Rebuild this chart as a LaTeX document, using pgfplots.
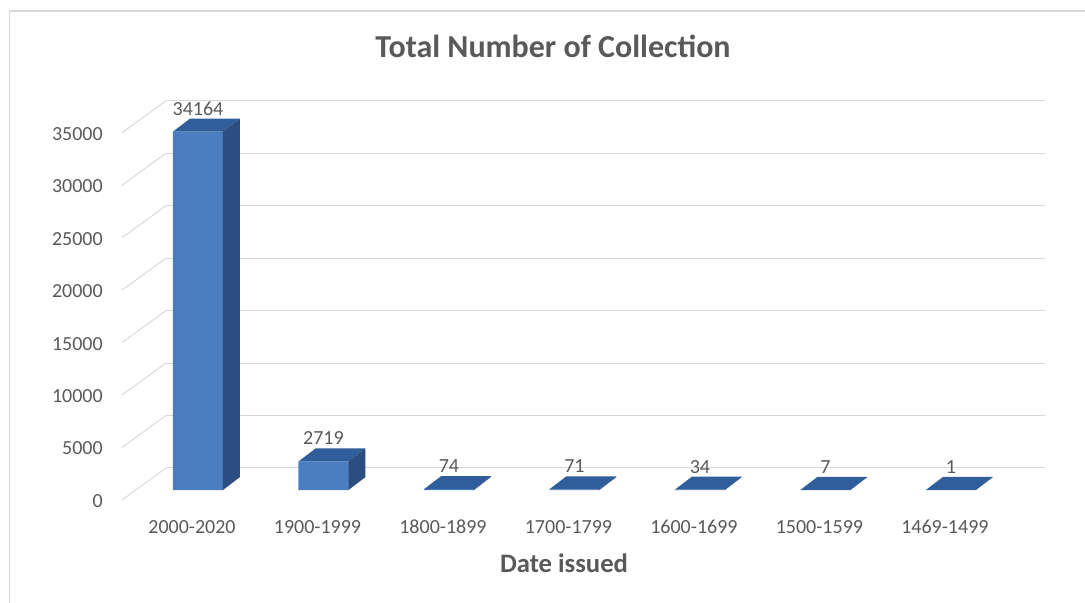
\documentclass[border=0pt]{standalone}
\usepackage{pgfplots}
\pgfplotsset{compat=1.18}
\usepackage{pgfplotstable}
\usepackage{fontspec}
\setmainfont{Carlito}
\usetikzlibrary{calc}
\definecolor{frontc}{HTML}{4A7EC1}
\definecolor{sidec}{HTML}{2B4D80}
\definecolor{topc}{HTML}{305E9A}
\definecolor{txt}{HTML}{595959}
\definecolor{gridc}{HTML}{D9D9D9}

\pgfplotstableread{
x label value
0 2000-2020 34164
1 1900-1999 2719
2 1800-1899 74
3 1700-1799 71
4 1600-1699 34
5 1500-1599 7
6 1469-1499 1
}\datatable

\begin{document}
\begin{tikzpicture}
\begin{axis}[
  name=ax,
  scale only axis, width=659.25pt, height=291.9pt,
  xmin=-0.255, xmax=6.75, ymin=0, ymax=37100,
  clip=false,
  axis line style={draw=none}, major tick length=0pt, tick style={draw=none},
  scaled y ticks=false,
  ytick={2100,7100,12100,17100,22100,27100,32100,37100},
  yticklabels={0,5000,10000,15000,20000,25000,30000,35000},
  ymajorgrids, grid style={gridc, line width=0.75pt},
  xtick={0,1,2,3,4,5,6},
  xticklabels={2000-2020,1900-1999,1800-1899,1700-1799,1600-1699,1500-1599,1469-1499},
  ticklabel style={font=\fontsize{15}{18}\selectfont, color=txt, inner sep=0pt},
  yticklabel style={anchor=east, xshift=-47.25pt, yshift=-24.75pt},
  xticklabel style={anchor=center, xshift=-4.5pt, yshift=-27.75pt},
  title={Total Number of Collection},
  title style={at={(0.4403,1.1202)}, anchor=center, inner sep=0pt, font=\bfseries\fontsize{24}{29}\selectfont, color=txt},
  xlabel={Date issued},
  xlabel style={at={(0.4528,-0.1876)}, anchor=center, inner sep=0pt, font=\bfseries\fontsize{20}{24}\selectfont, color=txt},
  /pgf/number format/.cd, 1000 sep={}, assume math mode=true,
]
\draw[gridc, line width=0.75pt]
  (axis cs:-0.6056,-950) -- (axis cs:-0.255,2100)
  (axis cs:-0.6056,4050) -- (axis cs:-0.255,7100)
  (axis cs:-0.6056,9050) -- (axis cs:-0.255,12100)
  (axis cs:-0.6056,14050) -- (axis cs:-0.255,17100)
  (axis cs:-0.6056,19050) -- (axis cs:-0.255,22100)
  (axis cs:-0.6056,24050) -- (axis cs:-0.255,27100)
  (axis cs:-0.6056,29050) -- (axis cs:-0.255,32100)
  (axis cs:-0.6056,34050) -- (axis cs:-0.255,37100);
\addplot[ybar, bar width=0.4, fill=frontc, draw=none,
  nodes near coords,
  nodes near coords style={font=\fontsize{15}{18}\selectfont, color=txt, anchor=center, inner sep=0pt, yshift=17.25pt}]
  table[x=x, y=value] {\datatable};
\pgfplotsinvokeforeach{0,...,6}{
  \pgfplotstablegetelem{#1}{value}\of\datatable
  \edef\temp{%
    \noexpand\fill[topc] ($(axis cs:#1,\pgfplotsretval)+(-18.75pt,0pt)$) -- ($(axis cs:#1,\pgfplotsretval)+(18.75pt,0pt)$) -- ($(axis cs:#1,\pgfplotsretval)+(31.5pt,9.75pt)$) -- ($(axis cs:#1,\pgfplotsretval)+(-6pt,9.75pt)$) -- cycle;
    \noexpand\fill[sidec] ($(axis cs:#1,\pgfplotsretval)+(18.75pt,0pt)$) -- ($(axis cs:#1,\pgfplotsretval)+(31.5pt,9.75pt)$) -- ($(axis cs:#1,0)+(31.5pt,9.75pt)$) -- ($(axis cs:#1,0)+(18.75pt,0pt)$) -- cycle;
  }
  \temp
}
\end{axis}
\draw[gridc, line width=1.1pt] ($(ax.south west)+(-117.4pt,-84.75pt)$) -- ($(ax.south west)+(-117.4pt,359.25pt)$) -- ($(ax.south west)+(689.25pt,359.25pt)$);
\pgfresetboundingbox
\path ($(ax.south west)+(-124.5pt,-84.75pt)$) rectangle ++(813.75pt,452.25pt);
\end{tikzpicture}
\end{document}
